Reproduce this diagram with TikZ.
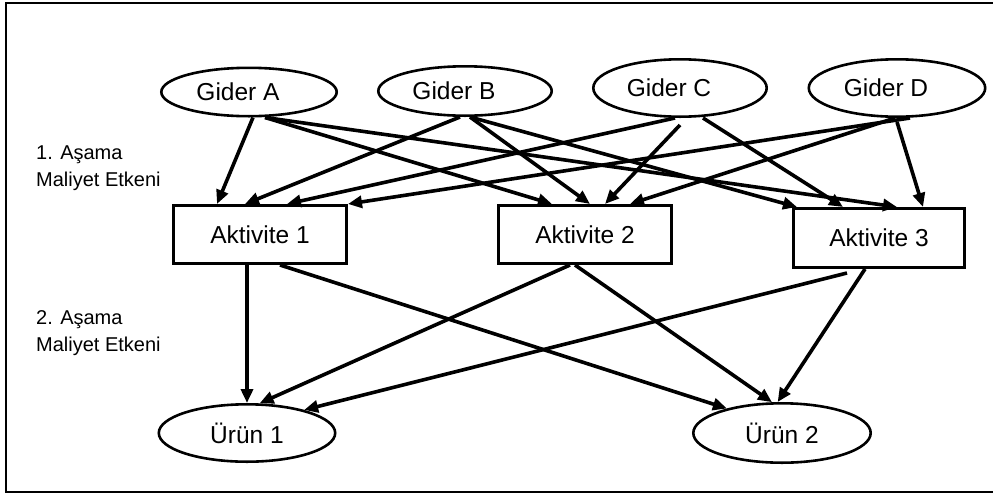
\documentclass[tikz,border=0pt]{standalone}
\usepackage{fontspec}
\setmainfont{Liberation Sans}
\usetikzlibrary{shapes.geometric,arrows.meta}

\begin{document}
\begin{tikzpicture}[x=1pt,y=-1pt,
  every node/.style={font=\fontsize{24.5}{29}\selectfont},
  gider/.style={ellipse,draw,line width=2.6pt,inner sep=0pt},
  gtext/.style={xshift=-11pt,inner sep=0pt},
  akt/.style={rectangle,draw,line width=2.6pt,inner sep=0pt,
              minimum width=173.4pt,minimum height=58.4pt},
  urun/.style={ellipse,draw,line width=2.6pt,inner sep=0pt},
  arr/.style={line width=3.6pt,-{Triangle[length=14pt,width=12pt]}},
  frame/.style={line width=1.8pt},
  stage/.style={font=\fontsize{20}{27}\selectfont,align=left,anchor=west,inner sep=0pt}]

\useasboundingbox (0,0) rectangle (993,496);

% outer frame (open on the right)
\draw[frame] (1000,3) -- (6,3) -- (6,492) -- (1000,492);

% cost pools
\node[gider,minimum width=175.4pt,minimum height=48.4pt,
      label={[gtext]center:Gider A}] (ga) at (249,92) {};
\node[gider,minimum width=173.4pt,minimum height=49.4pt,
      label={[gtext]center:Gider B}] (gb) at (465,91) {};
\node[gider,minimum width=173.4pt,minimum height=57.4pt,
      label={[gtext]center:Gider C}] (gc) at (680,88) {};
\node[gider,minimum width=176.4pt,minimum height=57.4pt,
      label={[gtext]center:Gider D}] (gd) at (897,88) {};

% activities
\node[akt] (a1) at (260,234.5) {Aktivite 1};
\node[akt] (a2) at (585,234.5) {Aktivite 2};
\node[akt,minimum width=171.4pt,minimum height=59.4pt] (a3) at (879,238) {Aktivite 3};

% products
\node[urun,minimum width=176.4pt,minimum height=57.4pt] (u1) at (247,433) {Ürün 1};
\node[urun,minimum width=177.4pt,minimum height=59.4pt] (u2) at (782,433) {Ürün 2};

% stage captions
\node[stage] (s1) at (36,168) {1. Aşama\\Maliyet Etkeni};
\node[stage] (s2) at (36,333) {2. Aşama\\Maliyet Etkeni};

% first-stage drivers
\draw[arr] ([xshift=4pt]ga.south) -- ([xshift=-43pt]a1.north);
\draw[arr] ([xshift=16pt]ga.south) -- ([xshift=-33pt]a2.north);
\draw[arr] ([xshift=16pt]ga.south) -- ([xshift=18pt]a3.north);
\draw[arr] ([xshift=-5pt]gb.south) -- ([xshift=-15pt]a1.north);
\draw[arr] ([xshift=5pt]gb.south) -- ([xshift=5pt]a2.north);
\draw[arr] ([xshift=5pt]gb.south) -- ([xshift=-82pt]a3.north);
\draw[arr] ([xshift=-5pt]gc.south) -- ([xshift=27pt]a1.north);
\draw[arr] ([yshift=-7pt]gc.south) -- ([xshift=20pt]a2.north);
\draw[arr] ([xshift=23pt]gc.south) -- ([xshift=-36pt]a3.north);
\draw[arr] ([xshift=13pt]gd.south) -- (a1.north east);
\draw[arr] ([xshift=-2pt]gd.south) -- ([xshift=45pt]a2.north);
\draw[arr] ([yshift=-4pt]gd.south) -- ([xshift=44pt]a3.north);

% second-stage drivers
\draw[arr] ([xshift=-13pt]a1.south) -- (u1.north);
\draw[arr] ([xshift=20pt]a1.south) -- (u2.156);
\draw[arr] ([xshift=-15pt]a2.south) -- (u1.67);
\draw[arr] ([xshift=-10pt]a2.south) -- (u2.108);
\draw[arr] ([xshift=-32pt,yshift=-4pt]a3.south) -- (u1.22);
\draw[arr] ([xshift=-14pt]a3.south) -- (u2.98);
\end{tikzpicture}
\end{document}
